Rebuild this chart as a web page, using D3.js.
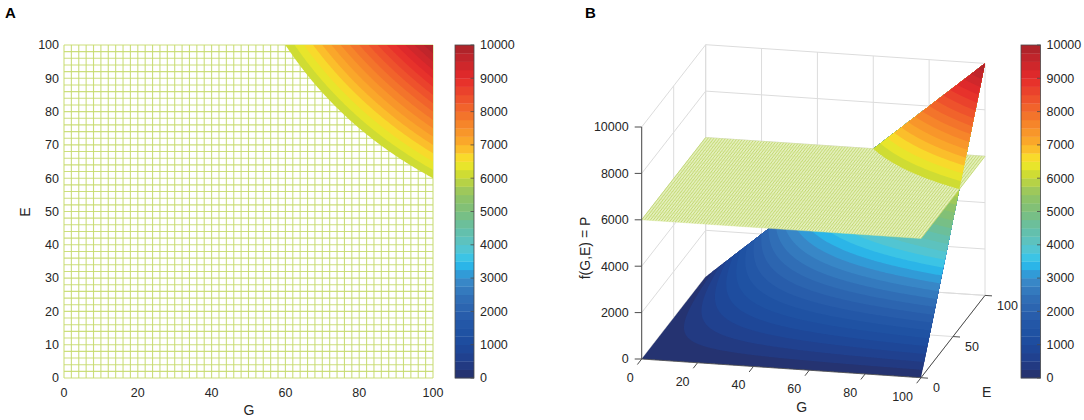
<!DOCTYPE html>
<html>
<head>
<meta charset="utf-8">
<script src="https://cdn.jsdelivr.net/npm/d3@7"></script>
<style>
  html, body { margin: 0; padding: 0; background: #fff; }
  svg { display: block; }
</style>
</head>
<body>
<script>
// ---------------- data ----------------
const gTicksA = [0, 20, 40, 60, 80, 100];
const eTicksA = [0, 10, 20, 30, 40, 50, 60, 70, 80, 90, 100];
const colorbarTicks = [0, 1000, 2000, 3000, 4000, 5000, 6000, 7000, 8000, 9000, 10000];
const gTicksB = [0, 20, 40, 60, 80, 100];
const eTicksB = [0, 50, 100];
const zTicksB = [0, 2000, 4000, 6000, 8000, 10000];
const planeLevel = 6000;          // P
const levelStep = 250;            // contour band width
const maxLevel = 10000;
const meshStepA = 2;              // mesh spacing of the P plane (panel A)
const meshStepB = 1;              // mesh spacing of the P plane (panel B)
const gridStep = 0.5;             // sampling of the surface f(G,E) = G*E
// colormap anchors (value -> colour)
const cmapValues = [0, 500, 1000, 1500, 2000, 2500, 3000, 3250, 3500, 3750, 4000, 4500, 5000, 5500, 5750, 6000, 6250, 6500, 6750, 7000, 7500, 8000, 8500, 9000, 9500, 10000];
const cmapColors = ["#262f69", "#213e8a", "#1d4a9d", "#2054a5", "#2a60ad", "#3273b9", "#3a8dcb", "#28a8e2", "#2ec2ee", "#4ac6dc", "#5ac3c7", "#66bfa4", "#7cbf7c", "#93c463", "#a9cc52", "#c3d73a", "#dbe12b", "#f5e92a", "#fbcb2b", "#fbb02a", "#f78d2a", "#f26b2b", "#ec4a2c", "#e52a2b", "#c8262b", "#a8232a"];

// ---------------- setup ----------------
const W = 1084, H = 420;
const FONT = "'Liberation Sans', Arial, Helvetica, sans-serif";
const TXT = "#262626";
const svg = d3.select("body").append("svg").attr("width", W).attr("height", H)
  .style("font-family", FONT);

const cmap = d3.scaleLinear().domain(cmapValues).range(cmapColors).clamp(true);
const bandColor = t => cmap(t + levelStep / 2);

// surface samples
const gridVals = d3.range(0, 100 + 1e-9, gridStep);
const N = gridVals.length;
const values = new Float64Array(N * N);
for (let j = 0; j < N; j++) for (let i = 0; i < N; i++) values[j * N + i] = gridVals[i] * gridVals[j];
const levels = d3.range(0, maxLevel, levelStep);
const contours = d3.contours().size([N, N]).thresholds(levels)(values);
const toData = c => Math.max(0, Math.min(100, (c - 0.5) * gridStep));

function ringPath(mp, proj) {
  let s = "";
  mp.coordinates.forEach(poly => poly.forEach(ring => {
    ring.forEach((p, k) => {
      const q = proj(toData(p[0]), toData(p[1]));
      s += (k ? "L" : "M") + q[0].toFixed(2) + "," + q[1].toFixed(2);
    });
    s += "Z";
  }));
  return s;
}

// ---------------- panel A ----------------
const xA = d3.scaleLinear().domain([0, 100]).range([64, 433]);
const yA = d3.scaleLinear().domain([0, 100]).range([378, 45]);
const gA = svg.append("g");

// P plane mesh (top view)
const meshA = d3.range(0, 100 + 1e-9, meshStepA);
gA.append("g").attr("stroke", "#c6da6e").attr("stroke-width", 1.1).attr("stroke-opacity", 0.9)
  .selectAll("line.v").data(meshA).join("line")
  .attr("x1", d => xA(d)).attr("x2", d => xA(d)).attr("y1", yA(0)).attr("y2", yA(100));
gA.append("g").attr("stroke", "#c6da6e").attr("stroke-width", 1.1).attr("stroke-opacity", 0.9)
  .selectAll("line.h").data(meshA).join("line")
  .attr("y1", d => yA(d)).attr("y2", d => yA(d)).attr("x1", xA(0)).attr("x2", xA(100));

// surface above P, seen from above
const projA = (g, e) => [xA(g), yA(e)];
gA.append("g").selectAll("path").data(contours.filter(c => c.value >= planeLevel)).join("path")
  .attr("d", c => ringPath(c, projA)).attr("fill", c => bandColor(c.value))
  .attr("fill-rule", "evenodd");

// ticks A
gA.append("g").selectAll("text").data(gTicksA).join("text")
  .attr("x", d => xA(d)).attr("y", 396.5).attr("text-anchor", "middle")
  .attr("font-size", 12.5).attr("fill", TXT).text(d => d);
gA.append("g").selectAll("text").data(eTicksA).join("text")
  .attr("x", 59).attr("y", d => yA(d)).attr("dy", "0.35em").attr("text-anchor", "end")
  .attr("font-size", 12.5).attr("fill", TXT).text(d => d);
gA.append("text").attr("x", 249).attr("y", 415).attr("text-anchor", "middle")
  .attr("font-size", 14).attr("fill", TXT).text("G");
gA.append("text").attr("transform", "translate(30,212) rotate(-90)").attr("text-anchor", "middle")
  .attr("font-size", 14).attr("fill", TXT).text("E");
svg.append("text").attr("x", 5).attr("y", 18).attr("font-size", 15).attr("font-weight", "bold")
  .attr("fill", "#000").text("A");

// ---------------- colorbars ----------------
function colorbar(x0, w) {
  const yC = d3.scaleLinear().domain([0, maxLevel]).range([378, 45]);
  const g = svg.append("g");
  g.selectAll("rect").data(levels).join("rect")
    .attr("x", x0).attr("width", w)
    .attr("y", d => yC(d + levelStep)).attr("height", d => yC(d) - yC(d + levelStep) + 0.3)
    .attr("fill", d => bandColor(d));
  g.append("rect").attr("x", x0).attr("y", yC(maxLevel)).attr("width", w).attr("height", yC(0) - yC(maxLevel))
    .attr("fill", "none").attr("stroke", "#4a4a4a").attr("stroke-width", 0.8);
  g.selectAll("line").data(colorbarTicks).join("line")
    .attr("x1", x0 + w - 3.5).attr("x2", x0 + w).attr("y1", d => yC(d)).attr("y2", d => yC(d))
    .attr("stroke", "#4a4a4a").attr("stroke-width", 0.8);
  g.selectAll("text").data(colorbarTicks).join("text")
    .attr("x", x0 + w + 6).attr("y", d => yC(d)).attr("dy", "0.35em")
    .attr("font-size", 12.5).attr("fill", TXT).text(d => d);
}
colorbar(455, 19);
colorbar(1021, 19.5);

// ---------------- panel B (3D) ----------------
const uS = d3.scaleLinear().domain([0, 100]).range([0, 1]);     // G
const vS = d3.scaleLinear().domain([0, 100]).range([0, 1]);     // E
const wS = d3.scaleLinear().domain([0, maxLevel]).range([0, 1]); // z
const O = [641.7, 359], AX = [279.3, 18.7], BX = [64, -82.3], CX = [0, -232];
function P3(g, e, z) {
  const u = uS(g), v = vS(e), w = wS(z);
  return [O[0] + u * AX[0] + v * BX[0] + w * CX[0], O[1] + u * AX[1] + v * BX[1] + w * CX[1]];
}
const gB = svg.append("g");
const line3 = (a, b, parent, color, width) => {
  const p = P3(...a), q = P3(...b);
  parent.append("line").attr("x1", p[0]).attr("y1", p[1]).attr("x2", q[0]).attr("y2", q[1])
    .attr("stroke", color).attr("stroke-width", width);
};
const gridC = "#dcdcdc";
const walls = gB.append("g");
// left wall G = 0
zTicksB.forEach(z => line3([0, 0, z], [0, 100, z], walls, gridC, 1));
eTicksB.forEach(e => line3([0, e, 0], [0, e, maxLevel], walls, gridC, 1));
// back wall E = 100
zTicksB.forEach(z => line3([0, 100, z], [100, 100, z], walls, gridC, 1));
gTicksB.forEach(g => line3([g, 100, 0], [g, 100, maxLevel], walls, gridC, 1));
// floor z = 0
gTicksB.forEach(g => line3([g, 0, 0], [g, 100, 0], walls, gridC, 1));
eTicksB.forEach(e => line3([0, e, 0], [100, e, 0], walls, gridC, 1));

const projB = (g, e) => P3(g, e, g * e);
// surface below P
gB.append("g").selectAll("path").data(contours.filter(c => c.value < planeLevel)).join("path")
  .attr("d", c => ringPath(c, projB)).attr("fill", c => bandColor(c.value)).attr("fill-rule", "evenodd");

// P plane
const plane = gB.append("g");
const corners = [[0, 0], [100, 0], [100, 100], [0, 100]].map(c => P3(c[0], c[1], planeLevel));
plane.append("path").attr("d", "M" + corners.map(c => c.join(",")).join("L") + "Z")
  .attr("fill", "#e4efbd");
const meshB = d3.range(0, 100 + 1e-9, meshStepB);
meshB.forEach(g => line3([g, 0, planeLevel], [g, 100, planeLevel], plane, "#c0d769", 0.9));
d3.range(0, 100 + 1e-9, 5).forEach(e => line3([0, e, planeLevel], [100, e, planeLevel], plane, "#d2e390", 0.4));

// surface above P
gB.append("g").selectAll("path").data(contours.filter(c => c.value >= planeLevel)).join("path")
  .attr("d", c => ringPath(c, projB)).attr("fill", c => bandColor(c.value)).attr("fill-rule", "evenodd");

// axes
const axC = "#4d4d4d";
const axes = gB.append("g");
line3([0, 0, 0], [0, 0, maxLevel], axes, axC, 1);
line3([0, 0, 0], [100, 0, 0], axes, axC, 0.8);
line3([100, 0, 0], [100, 100, 0], axes, axC, 1);
// z ticks
zTicksB.forEach(z => {
  const p = P3(0, 0, z);
  axes.append("line").attr("x1", p[0] - 7).attr("x2", p[0]).attr("y1", p[1]).attr("y2", p[1])
    .attr("stroke", axC).attr("stroke-width", 1);
  axes.append("text").attr("x", p[0] - 13).attr("y", p[1]).attr("dy", "0.35em").attr("text-anchor", "end")
    .attr("font-size", 12.5).attr("fill", TXT).text(z);
});
// G ticks
const bl = Math.hypot(BX[0], BX[1]);
gTicksB.forEach(g => {
  const p = P3(g, 0, 0);
  axes.append("line").attr("x1", p[0]).attr("y1", p[1])
    .attr("x2", p[0] - BX[0] / bl * 7).attr("y2", p[1] - BX[1] / bl * 7)
    .attr("stroke", axC).attr("stroke-width", 1);
  axes.append("text").attr("x", p[0] - 8).attr("y", p[1] + 23).attr("text-anchor", "end")
    .attr("font-size", 12.5).attr("fill", TXT).text(g);
});
// E ticks
const al = Math.hypot(AX[0], AX[1]);
eTicksB.forEach(e => {
  const p = P3(100, e, 0);
  axes.append("line").attr("x1", p[0]).attr("y1", p[1])
    .attr("x2", p[0] + AX[0] / al * 7).attr("y2", p[1] + AX[1] / al * 7)
    .attr("stroke", axC).attr("stroke-width", 1);
  axes.append("text").attr("x", p[0] + 12).attr("y", p[1] + 14.5).attr("text-anchor", "start")
    .attr("font-size", 12.5).attr("fill", TXT).text(e);
});
gB.append("text").attr("x", 801.7).attr("y", 412).attr("text-anchor", "middle")
  .attr("font-size", 14).attr("fill", TXT).text("G");
gB.append("text").attr("x", 986.7).attr("y", 397).attr("text-anchor", "middle")
  .attr("font-size", 14).attr("fill", TXT).text("E");
gB.append("text").attr("transform", "translate(590,248) rotate(-90)").attr("text-anchor", "middle")
  .attr("font-size", 14).attr("fill", TXT).text("f(G,E) = P");
svg.append("text").attr("x", 585).attr("y", 18).attr("font-size", 15).attr("font-weight", "bold")
  .attr("fill", "#000").text("B");
</script>
</body>
</html>
